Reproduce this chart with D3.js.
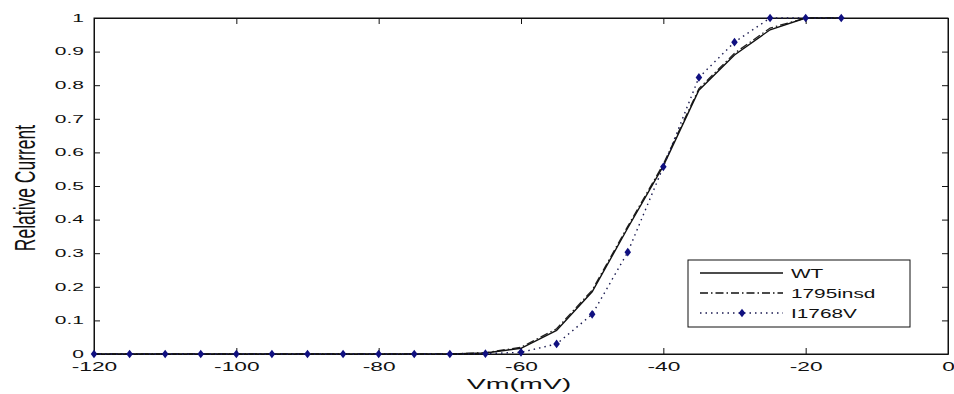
<!DOCTYPE html>
<html>
<head>
<meta charset="utf-8">
<script src="https://cdn.jsdelivr.net/npm/d3@7"></script>
<style>
  body { margin: 0; background: #fff; }
  text { font-family: "Liberation Sans", Arial, sans-serif; fill: #111; }
</style>
</head>
<body>
<div id="chart"></div>
<script>
// membrane voltage (mV), one point every 5 mV
const voltages = [-120, -115, -110, -105, -100, -95, -90, -85, -80, -75, -70,
                  -65, -60, -55, -50, -45, -40, -35, -30, -25, -20, -15];
const wtValues = [0, 0, 0, 0, 0, 0, 0, 0, 0, 0, 0,
                  0.003, 0.017, 0.07, 0.185, 0.375, 0.56, 0.785, 0.89, 0.965, 1, 1];
const insdValues = [0, 0, 0, 0, 0, 0, 0, 0, 0, 0, 0,
                    0.004, 0.02, 0.075, 0.19, 0.38, 0.565, 0.79, 0.895, 0.97, 1, 1];
const i1768vValues = [0, 0, 0, 0, 0, 0, 0, 0, 0, 0, 0,
                      0.001, 0.005, 0.03, 0.118, 0.303, 0.557, 0.823, 0.928, 1, 1, 1];
const xTicks = [-120, -100, -80, -60, -40, -20, 0];
const yTicks = [0, 0.1, 0.2, 0.3, 0.4, 0.5, 0.6, 0.7, 0.8, 0.9, 1];
const seriesNames = ['WT', '1795insd', 'I1768V'];

const W = 954, H = 394;
const margin = { top: 18, right: 6, bottom: 40, left: 94 },
    width = W - margin.left - margin.right,
    height = H - margin.top - margin.bottom;
// the picture is stretched sideways, so is its text
const sxX = 1.75, sxY = 2.1, sxLeg = 1.6;

const svg = d3.select('#chart').append('svg')
    .attr('width', W)
    .attr('height', H);
const g = svg.append('g')
    .attr('transform', 'translate(' + margin.left + ',' + margin.top + ')');

const xScale = d3.scaleLinear().domain([-120, 0]).range([0, width]);
const yScale = d3.scaleLinear().domain([0, 1]).range([height, 0]);

// axes, ticks pointing inward
const xAxis = g.append('g')
    .attr('transform', 'translate(0,' + height + ')')
    .call(d3.axisBottom(xScale).tickValues(xTicks).tickSizeInner(-6).tickSizeOuter(0)
        .tickFormat(function (d) { return String(d); }));
xAxis.selectAll('text')
    .attr('y', 17).attr('dy', 0)
    .attr('font-size', 13)
    .attr('transform', 'scale(' + sxX + ',1)');

const yAxis = g.append('g')
    .call(d3.axisLeft(yScale).tickValues(yTicks).tickSizeInner(-6).tickSizeOuter(0)
        .tickFormat(function (d) { return d === 0 || d === 1 ? String(d) : d3.format('.1f')(d); }));
yAxis.selectAll('text')
    .attr('x', -10 / sxY)
    .attr('font-size', 10)
    .attr('transform', 'scale(' + sxY + ',1)');

g.append('g')
    .call(d3.axisTop(xScale).tickValues(xTicks).tickSizeInner(-6).tickSizeOuter(0).tickFormat(''));
g.append('g')
    .attr('transform', 'translate(' + width + ',0)')
    .call(d3.axisRight(yScale).tickValues(yTicks).tickSizeInner(-6).tickSizeOuter(0).tickFormat(''));

g.selectAll('.domain').attr('stroke', '#111');
g.selectAll('.tick line').attr('stroke', '#111');

g.append('rect')
    .attr('width', width).attr('height', height)
    .attr('fill', 'none').attr('stroke', '#111');

// axis labels
svg.append('text')
    .attr('transform', 'translate(519,' + (H - 5) + ') scale(1.9,1)')
    .attr('text-anchor', 'middle')
    .attr('font-size', 15)
    .text('Vm(mV)');

svg.append('text')
    .attr('transform', 'translate(35,188) scale(1.7,1) rotate(-90)')
    .attr('text-anchor', 'middle')
    .attr('font-size', 17.5)
    .text('Relative Current');

// lines
function lineFor(values) {
    return d3.line()
        .x(function (d, i) { return xScale(voltages[i]); })
        .y(function (d) { return yScale(d); })(values);
}

g.append('path')
    .attr('fill', 'none')
    .attr('stroke', '#222')
    .attr('stroke-width', 1.3)
    .attr('stroke-dasharray', '8,3,1.5,3')
    .attr('d', lineFor(insdValues));

g.append('path')
    .attr('fill', 'none')
    .attr('stroke', '#111')
    .attr('stroke-width', 1.4)
    .attr('d', lineFor(wtValues));

g.append('path')
    .attr('fill', 'none')
    .attr('stroke', '#1a1a50')
    .attr('stroke-width', 1.4)
    .attr('stroke-dasharray', '1.5,4')
    .attr('d', lineFor(i1768vValues));

const diamond = d3.symbol().type(d3.symbolDiamond).size(22);
g.selectAll('path.marker')
    .data(i1768vValues)
    .enter().append('path')
    .attr('class', 'marker')
    .attr('fill', '#101080')
    .attr('transform', function (d, i) {
        return 'translate(' + xScale(voltages[i]) + ',' + yScale(d) + ') scale(1.3,1)';
    })
    .attr('d', diamond);

// legend
const legend = svg.append('g').attr('transform', 'translate(688,260)');
legend.append('rect')
    .attr('width', 222).attr('height', 67)
    .attr('fill', '#fff').attr('stroke', '#111');

const rows = legend.selectAll('g.legend')
    .data(seriesNames)
    .enter().append('g')
    .attr('class', 'legend')
    .attr('transform', function (d, i) { return 'translate(0,' + (13 + i * 20) + ')'; });

rows.append('line')
    .attr('x1', 12).attr('x2', 95)
    .attr('stroke', function (d, i) { return i === 2 ? '#1a1a50' : '#111'; })
    .attr('stroke-width', 1.3)
    .attr('stroke-dasharray', function (d, i) {
        return i === 0 ? null : (i === 1 ? '8,3,1.5,3' : '1.5,4');
    });

rows.filter(function (d, i) { return i === 2; })
    .append('path')
    .attr('fill', '#101080')
    .attr('transform', 'translate(54,0) scale(1.3,1)')
    .attr('d', diamond);

rows.append('text')
    .attr('transform', 'translate(103,5) scale(' + sxLeg + ',1)')
    .attr('font-size', 13)
    .text(function (d) { return d; });
</script>
</body>
</html>
